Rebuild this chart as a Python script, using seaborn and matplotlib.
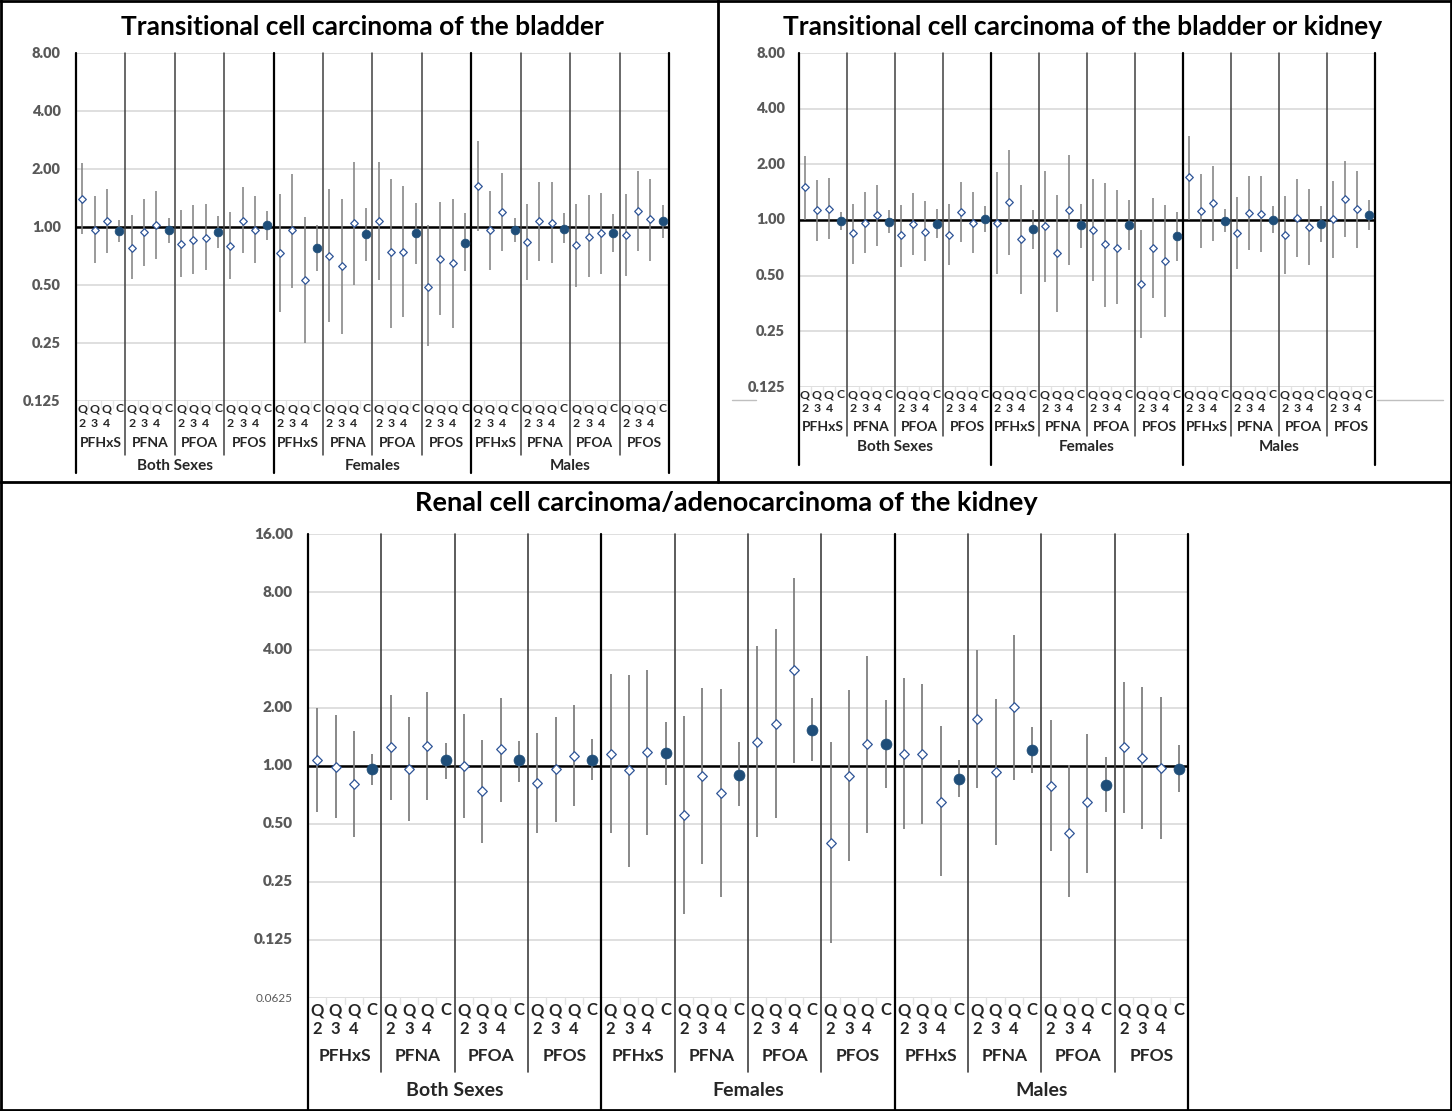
import numpy as np
import pandas as pd
import seaborn as sns
import matplotlib.pyplot as plt
from matplotlib.lines import Line2D

sns.set_theme(style="white")
plt.rcParams["font.family"] = ["Lato", "DejaVu Sans"]

sexes = ["Both Sexes", "Females", "Males"]
chems = ["PFHxS", "PFNA", "PFOA", "PFOS"]
levels = ["Q2", "Q3", "Q4", "C"]
level_top = ["Q", "Q", "Q", "C"]
level_num = ["2", "3", "4", ""]

# order: sex -> chemical -> Q2, Q3, Q4, C
bladder_est = [1.40, 0.97, 1.07, 0.95, 0.78, 0.94, 1.02, 0.97, 0.82, 0.86, 0.88, 0.94, 0.80, 1.08, 0.97, 1.02,
               0.73, 0.96, 0.53, 0.78, 0.71, 0.63, 1.05, 0.92, 1.07, 0.74, 0.74, 0.93, 0.49, 0.68, 0.65, 0.83,
               1.63, 0.96, 1.19, 0.97, 0.84, 1.07, 1.05, 0.98, 0.81, 0.89, 0.93, 0.93, 0.91, 1.21, 1.10, 1.07]
bladder_lo = [0.92, 0.65, 0.73, 0.84, 0.54, 0.63, 0.68, 0.83, 0.55, 0.57, 0.60, 0.78, 0.54, 0.73, 0.65, 0.86,
              0.36, 0.48, 0.25, 0.59, 0.32, 0.28, 0.50, 0.67, 0.53, 0.30, 0.34, 0.64, 0.24, 0.35, 0.30, 0.59,
              0.95, 0.60, 0.75, 0.84, 0.53, 0.67, 0.65, 0.83, 0.49, 0.55, 0.57, 0.74, 0.56, 0.75, 0.67, 0.88]
bladder_hi = [2.14, 1.44, 1.57, 1.09, 1.15, 1.40, 1.53, 1.12, 1.23, 1.30, 1.32, 1.14, 1.20, 1.62, 1.45, 1.21,
              1.48, 1.89, 1.13, 1.03, 1.57, 1.39, 2.17, 1.25, 2.17, 1.78, 1.64, 1.33, 1.03, 1.35, 1.39, 1.18,
              2.80, 1.54, 1.90, 1.12, 1.32, 1.71, 1.72, 1.18, 1.32, 1.47, 1.50, 1.17, 1.48, 1.95, 1.78, 1.30]

bk_est = [1.50, 1.13, 1.15, 0.99, 0.85, 0.96, 1.06, 0.98, 0.83, 0.95, 0.86, 0.95, 0.83, 1.10, 0.96, 1.01,
          0.96, 1.25, 0.79, 0.89, 0.93, 0.66, 1.13, 0.94, 0.88, 0.74, 0.71, 0.94, 0.45, 0.71, 0.60, 0.82,
          1.70, 1.12, 1.23, 0.99, 0.85, 1.09, 1.08, 1.00, 0.83, 1.03, 0.92, 0.95, 1.01, 1.30, 1.14, 1.07]
bk_lo = [1.00, 0.77, 0.79, 0.88, 0.58, 0.66, 0.72, 0.85, 0.56, 0.65, 0.60, 0.80, 0.57, 0.76, 0.66, 0.86,
         0.51, 0.65, 0.40, 0.70, 0.46, 0.32, 0.57, 0.71, 0.47, 0.34, 0.35, 0.69, 0.23, 0.38, 0.30, 0.60,
         1.00, 0.71, 0.77, 0.86, 0.54, 0.69, 0.67, 0.85, 0.51, 0.63, 0.57, 0.76, 0.62, 0.81, 0.71, 0.88]
bk_hi = [2.22, 1.65, 1.68, 1.11, 1.22, 1.41, 1.55, 1.13, 1.21, 1.40, 1.26, 1.14, 1.22, 1.61, 1.42, 1.19,
         1.82, 2.40, 1.55, 1.13, 1.85, 1.36, 2.24, 1.22, 1.67, 1.58, 1.45, 1.28, 0.88, 1.31, 1.21, 1.11,
         2.83, 1.78, 1.95, 1.15, 1.33, 1.73, 1.74, 1.19, 1.34, 1.66, 1.47, 1.19, 1.63, 2.08, 1.84, 1.28]

renal_est = [1.08, 0.99, 0.81, 0.96, 1.25, 0.96, 1.27, 1.07, 1.00, 0.74, 1.22, 1.07, 0.82, 0.96, 1.13, 1.08,
             1.16, 0.95, 1.18, 1.17, 0.56, 0.89, 0.72, 0.90, 1.33, 1.66, 3.14, 1.54, 0.40, 0.89, 1.30, 1.30,
             1.15, 1.15, 0.65, 0.86, 1.75, 0.93, 2.02, 1.21, 0.79, 0.45, 0.65, 0.80, 1.26, 1.10, 0.98, 0.96]
renal_lo = [0.58, 0.54, 0.43, 0.80, 0.67, 0.52, 0.67, 0.86, 0.54, 0.40, 0.65, 0.83, 0.45, 0.51, 0.62, 0.85,
            0.45, 0.30, 0.44, 0.80, 0.17, 0.31, 0.21, 0.62, 0.43, 0.54, 1.04, 1.06, 0.12, 0.32, 0.45, 0.77,
            0.47, 0.50, 0.27, 0.69, 0.77, 0.39, 0.85, 0.92, 0.36, 0.21, 0.28, 0.58, 0.57, 0.47, 0.42, 0.73]
renal_hi = [2.00, 1.85, 1.52, 1.16, 2.33, 1.80, 2.41, 1.32, 1.87, 1.36, 2.26, 1.35, 1.49, 1.80, 2.07, 1.38,
            3.01, 2.97, 3.15, 1.69, 1.82, 2.55, 2.50, 1.34, 4.18, 5.12, 9.50, 2.25, 1.34, 2.47, 3.74, 2.20,
            2.87, 2.65, 1.61, 1.07, 3.98, 2.22, 4.80, 1.59, 1.74, 1.01, 1.46, 1.11, 2.74, 2.58, 2.28, 1.29]

top_ticks = [0.125, 0.25, 0.5, 1, 2, 4, 8]
top_labels = ["0.125", "0.25", "0.50", "1.00", "2.00", "4.00", "8.00"]
bot_ticks = [0.0625, 0.125, 0.25, 0.5, 1, 2, 4, 8, 16]
bot_labels = ["0.0625", "0.125", "0.25", "0.50", "1.00", "2.00", "4.00", "8.00", "16.00"]

W, H = 1452, 1111
fig = plt.figure(figsize=(W / 100, H / 100), dpi=100)


def make_df(est, lo, hi):
    n = len(est)
    return pd.DataFrame({
        "pos": np.arange(n),
        "sex": [sexes[i // 16] for i in range(n)],
        "chem": [chems[(i // 4) % 4] for i in range(n)],
        "level": [levels[i % 4] for i in range(n)],
        "est": est, "lo": lo, "hi": hi,
    })


def draw_panel(est, lo, hi, box, ticks, labels, rows, sty):
    l, t, r, b = box
    ax = fig.add_axes([l / W, 1 - b / H, (r - l) / W, (b - t) / H])
    df = make_df(est, lo, hi)

    def fy(y):
        return (b - y) / (b - t)

    ax.set_yscale("log", base=2)
    ax.set_ylim(ticks[0], ticks[-1])
    ax.set_xlim(-0.5, len(df) - 0.5)
    for tk in ticks:
        ax.axhline(tk, color="#D9D9D9", lw=1.2, zorder=0)
    ax.axhline(1, color="black", lw=1.8, zorder=1)

    ax.vlines(df["pos"], df["lo"], df["hi"], color="#7F7F7F", lw=sty["elw"], zorder=2)
    q = df[df["level"] != "C"]
    c = df[df["level"] == "C"]
    sns.scatterplot(data=q, x="pos", y="est", marker="D", s=sty["ds"], color="white",
                    edgecolor="#2F5597", linewidth=0.9, legend=False, ax=ax, zorder=4)
    sns.scatterplot(data=c, x="pos", y="est", marker="o", s=sty["cs"], color="#1F4E79",
                    edgecolor="#1F4E79", linewidth=0.5, legend=False, ax=ax, zorder=4)

    for s in ax.spines.values():
        s.set_visible(False)
    ax.set_xticks([])
    ax.set_yticks([])
    ax.set_xlabel("")
    ax.set_ylabel("")

    # y tick labels, bold grey like the source
    ytr = ax.get_yaxis_transform()
    for tk, lab in zip(ticks, labels):
        small = lab == "0.0625"
        ax.annotate(lab, xy=(0, tk), xycoords=ytr, xytext=(-sty["pad"], 0),
                    textcoords="offset points", ha="right", va="center",
                    fontsize=8.5 if small else sty["tfs"],
                    fontweight="normal" if small else "heavy", color="#595959")

    tr = ax.get_xaxis_transform()
    # separators
    for k in range(13):
        x = 4 * k - 0.5
        if k % 4 == 0:
            ax.plot([x, x], [1, fy(rows["sex_end"])], color="black", lw=sty["slw"],
                    transform=tr, clip_on=False, zorder=3)
        else:
            ax.plot([x, x], [1, fy(rows["chem_end"])], color="#404040", lw=sty["clw"],
                    transform=tr, clip_on=False, zorder=3)
    for i in range(len(df)):
        if i % 4 != 3:
            ax.plot([i + 0.5, i + 0.5], [0, fy(rows["tick_end"])], color="#E3E3E3", lw=1,
                    transform=tr, clip_on=False)
        ax.text(i, fy(rows["q"]), level_top[i % 4], transform=tr, ha="center", va="center",
                fontsize=sty["qfs"], fontweight="bold", color="#262626")
        ax.text(i, fy(rows["d"]), level_num[i % 4], transform=tr, ha="center", va="center",
                fontsize=sty["qfs"], fontweight="bold", color="#262626")
    for j in range(12):
        ax.text(4 * j + 1.5, fy(rows["chem"]), chems[j % 4], transform=tr, ha="center",
                va="center", fontsize=sty["cfs"], fontweight="bold", color="#262626")
    for j in range(3):
        ax.text(16 * j + 7.5, fy(rows["sex"]), sexes[j], transform=tr, ha="center",
                va="center", fontsize=sty["sfs"], fontweight="bold", color="#262626")
    return ax


top_style = dict(elw=1.1, ds=15, cs=40, pad=11, tfs=10.5, qfs=8.8, cfs=10, sfs=11, slw=1.6, clw=1.1)

draw_panel(bladder_est, bladder_lo, bladder_hi, (76, 53, 669, 401), top_ticks, top_labels,
           dict(q=409, d=424, chem=443, sex=466, chem_end=455, sex_end=473, tick_end=408),
           top_style)
fig.text(362 / W, 1 - 27 / H, "Transitional cell carcinoma of the bladder", ha="center",
         va="center", fontsize=19, fontweight="bold", color="black")

draw_panel(bk_est, bk_lo, bk_hi, (799, 53, 1375, 387), top_ticks, top_labels,
           dict(q=395, d=409, chem=427, sex=447, chem_end=436, sex_end=465, tick_end=394),
           dict(top_style, pad=10))
fig.text(1083 / W, 1 - 27 / H, "Transitional cell carcinoma of the bladder or kidney", ha="center",
         va="center", fontsize=19, fontweight="bold", color="black")

bot_style = dict(elw=1.3, ds=24, cs=62, pad=11, tfs=11, qfs=12, cfs=12.5, sfs=14, slw=1.6, clw=1.2)
draw_panel(renal_est, renal_lo, renal_hi, (308, 534, 1188, 998), bot_ticks, bot_labels,
           dict(q=1010, d=1029, chem=1056, sex=1091, chem_end=1072, sex_end=1111, tick_end=1004),
           bot_style)
fig.text(726 / W, 1 - 503 / H, "Renal cell carcinoma/adenocarcinoma of the kidney", ha="center",
         va="center", fontsize=19.5, fontweight="bold", color="black")


# panel frames
def fig_line(x0, y0, x1, y1, color="black", lw=2):
    fig.add_artist(Line2D([x0 / W, x1 / W], [1 - y0 / H, 1 - y1 / H], color=color, lw=lw,
                          transform=fig.transFigure))


fig_line(1, 0, 1, H)
fig_line(W - 1, 0, W - 1, H)
fig_line(0, 1, W, 1)
fig_line(0, H - 1, W, H - 1)
fig_line(718, 0, 718, 482)
fig_line(0, 482, W, 482)
fig_line(732, 400, 756, 400, color="#BFBFBF", lw=1)
fig_line(1377, 400, 1443, 400, color="#BFBFBF", lw=1)

fig.savefig("out.png", dpi=100)
